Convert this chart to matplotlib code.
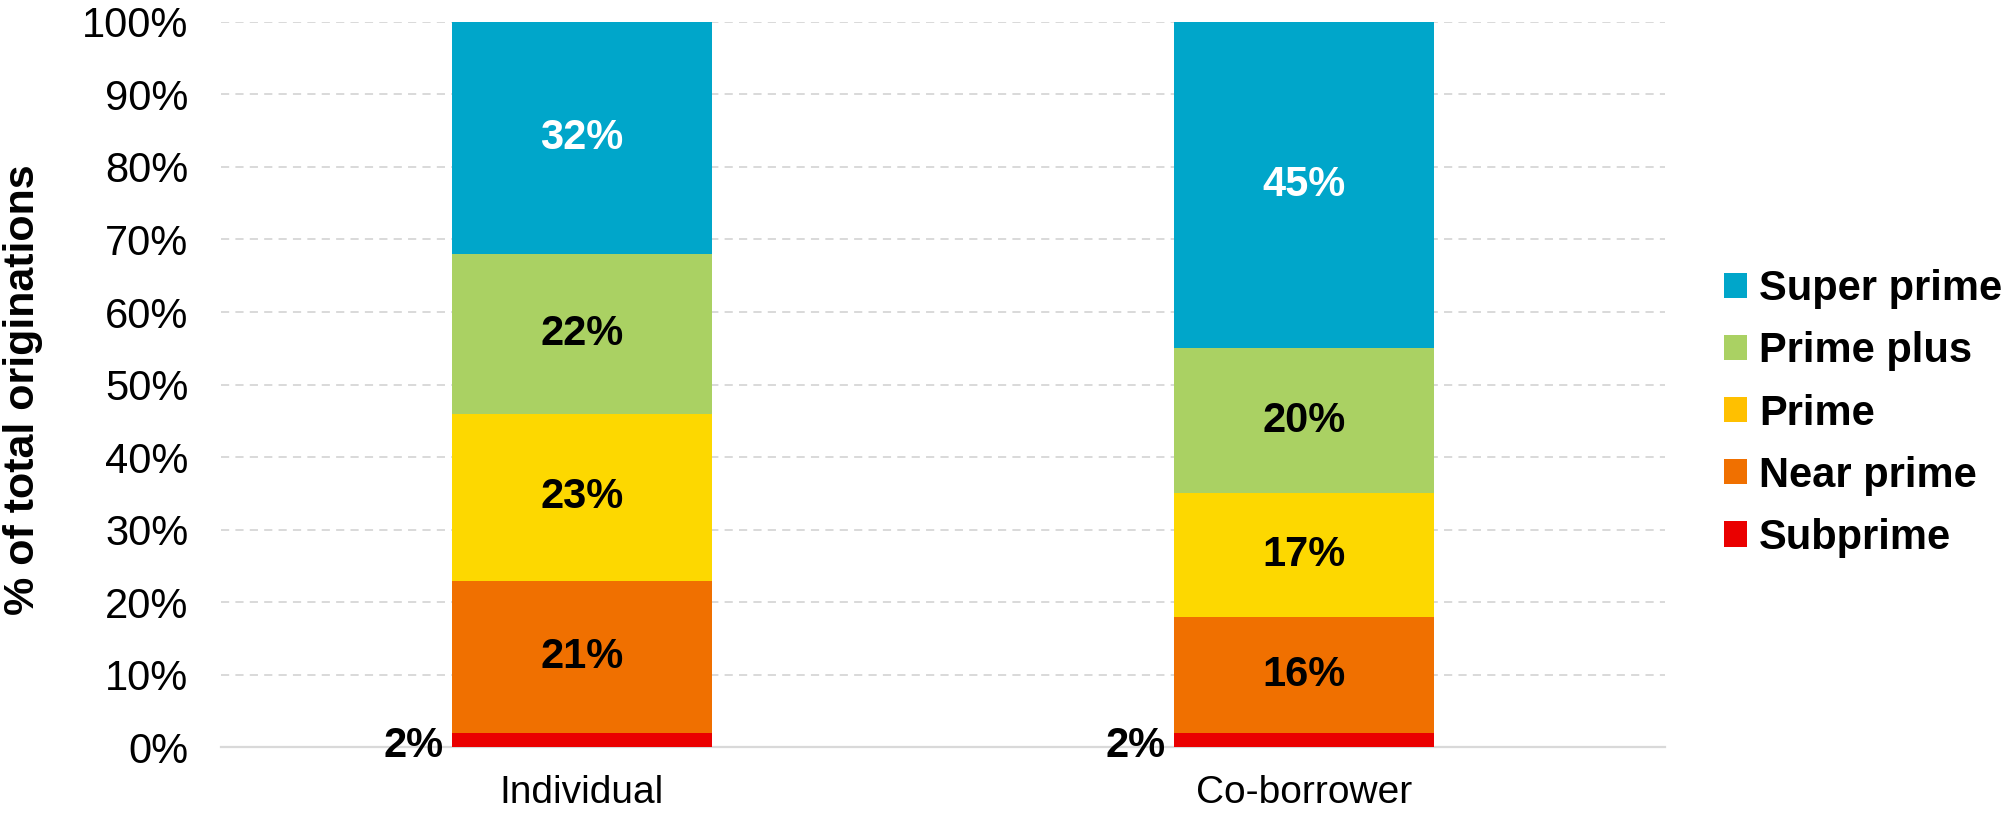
import matplotlib
matplotlib.use("Agg")
import matplotlib.pyplot as plt
from matplotlib.patches import Patch
import numpy as np

# Share of originations by credit tier
categories = ["Individual", "Co-borrower"]
tiers = ["Subprime", "Near prime", "Prime", "Prime plus", "Super prime"]
subprime = [2, 2]
near_prime = [21, 16]
prime = [23, 17]
prime_plus = [22, 20]
super_prime = [32, 45]
y_ticks = [0, 10, 20, 30, 40, 50, 60, 70, 80, 90, 100]

series = [subprime, near_prime, prime, prime_plus, super_prime]
bar_colors = ["#EA0000", "#F07000", "#FDD800", "#AAD163", "#00A6CA"]
legend_colors = ["#EA0000", "#F07000", "#FFC000", "#AAD163", "#00A6CA"]
label_colors = ["black", "black", "black", "black", "white"]

plt.rcParams["font.family"] = ["Liberation Sans", "DejaVu Sans"]

fig = plt.figure(figsize=(20.13, 8.13), dpi=100)
ax = fig.add_axes([0.1098, 0.0806, 0.827 - 0.1098, 0.9732 - 0.0806])

x = np.arange(len(categories))
width = 0.36
bottom = np.zeros(len(categories))
for vals, col, tcol in zip(series, bar_colors, label_colors):
    vals = np.array(vals, dtype=float)
    ax.bar(x, vals, width, bottom=bottom, color=col, edgecolor="none", zorder=3)
    for xi, b, v in zip(x, bottom, vals):
        if v >= 5:
            ax.text(xi, b + v / 2, f"{v:.0f}%", ha="center", va="center",
                    fontsize=30, fontweight="bold", color=tcol, zorder=4)
        else:
            ax.text(xi - width / 2 - 0.012, b + v / 2 - 0.8, f"{v:.0f}%",
                    ha="right", va="center", fontsize=30, fontweight="bold",
                    color="black", zorder=4)
    bottom += vals

ax.set_xlim(-0.5, 1.5)
ax.set_ylim(0, 100)
ax.set_yticks(y_ticks)
ax.set_yticklabels([f"{t}%" for t in y_ticks])
ax.set_xticks(x)
ax.set_xticklabels(categories)
ax.tick_params(axis="both", length=0)
ax.tick_params(axis="y", labelsize=30, pad=23.5)
ax.tick_params(axis="x", labelsize=28, pad=20)

ax.yaxis.grid(True, color="#D9D9D9", linewidth=1.4,
              linestyle=(0, (4.2, 3.2)), zorder=0)
ax.set_axisbelow(True)
for side in ["left", "right", "top"]:
    ax.spines[side].set_visible(False)
ax.spines["bottom"].set_color("#D9D9D9")
ax.spines["bottom"].set_linewidth(1.6)
ax.spines["bottom"].set_zorder(2)

ax.set_ylabel("% of total originations", fontsize=31, fontweight="bold")
ax.yaxis.set_label_coords(-0.1232, 0.493)

handles = [Patch(facecolor=c, edgecolor="none") for c in legend_colors[::-1]]
fig.legend(handles, tiers[::-1], loc="center left",
           bbox_to_anchor=(0.848, 0.4913), frameon=False,
           prop={"size": 30, "weight": "bold"},
           handlelength=0.55, handleheight=0.55, handletextpad=0.3,
           labelspacing=0.53, borderaxespad=0)

fig.savefig("out.png", dpi=100)
